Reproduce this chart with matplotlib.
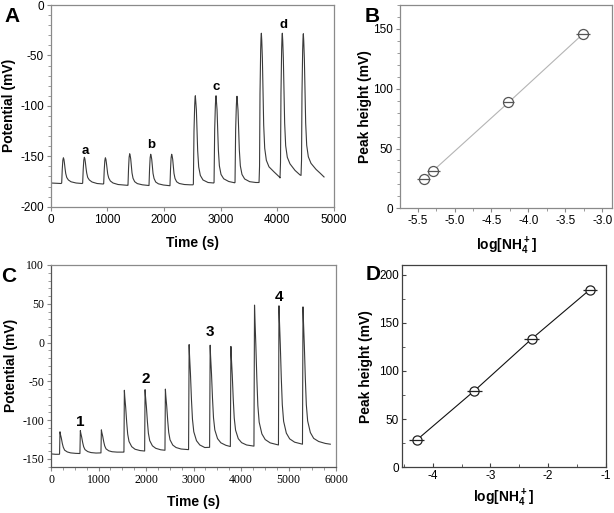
#!/usr/bin/env python3
"""Potentiometric NH4+ response: time traces (A, C) and calibration plots (B, D)."""
import matplotlib

matplotlib.use("Agg")
import matplotlib.pyplot as plt
from matplotlib.ticker import FormatStrFormatter, MultipleLocator

plt.rcParams["font.family"] = ["Liberation Sans", "DejaVu Sans"]
plt.rcParams["axes.unicode_minus"] = False
plt.rcParams["mathtext.fontset"] = "custom"
plt.rcParams["mathtext.rm"] = "Liberation Sans:bold"
plt.rcParams["mathtext.bf"] = "Liberation Sans:bold"

# ---- panel A: potential trace (time in s, potential in mV)
A_TIME = [
    0, 100, 183,
    194, 204, 214, 224, 233, 242, 253, 265, 283, 312, 359, 448, 553,
    564, 574, 584, 594, 603, 612, 623, 635, 653, 682, 729, 818, 924,
    935, 945, 955, 965, 974, 983, 994, 1006, 1024, 1053, 1100, 1189, 1280, 1353,
    1364, 1374, 1384, 1394, 1403, 1412, 1423, 1435, 1453, 1482, 1529, 1618, 1720,
    1735, 1745, 1755, 1765, 1774, 1783, 1794, 1806, 1824, 1853, 1900, 1989, 2090,
    2105, 2115, 2125, 2135, 2144, 2153, 2164, 2176, 2194, 2223, 2270, 2359, 2460, 2512,
    2518, 2529, 2541, 2547, 2553, 2562, 2571, 2582, 2594, 2612, 2641, 2688, 2777, 2877,
    2883, 2894, 2906, 2912, 2918, 2927, 2936, 2947, 2959, 2977, 3006, 3053, 3142, 3247,
    3253, 3264, 3276, 3282, 3288, 3297, 3306, 3317, 3329, 3347, 3376, 3423, 3512, 3620, 3675,
    3677, 3686, 3694, 3706, 3712, 3718, 3725, 3736, 3747, 3759, 3777, 3806, 3853, 3942, 4045,
    4047, 4056, 4064, 4076, 4082, 4088, 4095, 4106, 4117, 4129, 4147, 4176, 4223, 4312, 4400, 4418,
    4427, 4435, 4447, 4453, 4459, 4466, 4477, 4488, 4500, 4518, 4547, 4594, 4683, 4760, 4824,
]
A_MV = [
    -176.5, -176.8, -177,
    -176.5, -163, -154, -151.5, -153, -156.5, -162, -167, -171, -173.5, -175.3, -176.5, -177,
    -176.7, -163, -154, -151, -152.5, -156, -161.5, -166.5, -171, -173.5, -175.5, -177, -177.5,
    -177.3, -163.5, -154.5, -151.5, -153, -156.5, -162, -167.5, -171.5, -174.5, -176.5, -178, -178.5, -178.8,
    -178.7, -162, -151, -147.5, -149.5, -152.5, -159.5, -166.5, -171.8, -175.2, -177.1, -178.3, -179,
    -179, -162.5, -151.5, -148, -150, -153, -160, -167, -172, -175.5, -177.3, -178.5, -179.2,
    -179.2, -162.5, -151.5, -148, -150, -153, -160, -167, -172, -175.3, -177, -178, -178.3, -178.3,
    -177.5, -125, -100, -93, -90, -97, -104, -125, -144.5, -160.5, -169, -173.5, -176, -176.5,
    -176, -124, -100, -93, -90, -97, -104, -124, -143.5, -159.5, -168, -172.3, -175, -176.3,
    -176, -124, -100.5, -93.5, -90.5, -97.5, -104.5, -124.5, -143.5, -159.5, -168, -172.5, -175.2, -176, -176,
    -176, -160, -88, -44, -32.5, -28, -35, -53, -86, -119, -142, -154, -160.5, -165.5, -171,
    -171.5, -156, -88, -44, -32.5, -28, -35, -53, -85, -117, -139.5, -151, -157.5, -164, -168.5, -169,
    -154, -88, -44.5, -33, -28.5, -35.5, -53.5, -85, -117, -139, -150.5, -157, -163, -167, -170.5,
]
A_MARKS = ["a", "b", "c", "d"]
A_MARK_T = [606, 1782, 2929, 4112]
A_MARK_MV = [-145, -139, -81, -20]

# ---- panel B: calibration of trace A
B_LOGC = [-5.42, -5.29, -4.27, -3.26]
B_HEIGHT = [24.6, 31.5, 88.5, 145.8]
B_XERR = [0.09, 0.09, 0.08, 0.09]
B_YERR = [1.5, 1.5, 1.5, 2.0]

# ---- panel C: potential trace
C_TIME = [
    0, 90, 175,
    178, 183, 187, 195, 215, 236, 257, 285, 342, 412, 517, 604,
    607, 612, 616, 624, 644, 665, 686, 714, 771, 841, 946, 1048,
    1050, 1055, 1059, 1067, 1087, 1108, 1129, 1157, 1214, 1284, 1389, 1532,
    1534, 1539, 1543, 1551, 1571, 1592, 1613, 1641, 1698, 1768, 1873, 1970,
    1975, 1979, 1987, 2007, 2028, 2049, 2077, 2134, 2204, 2309, 2398,
    2403, 2407, 2415, 2435, 2456, 2477, 2505, 2562, 2632, 2737, 2895,
    2901, 2907, 2915, 2935, 2956, 2977, 3005, 3062, 3132, 3237, 3338,
    3344, 3350, 3358, 3378, 3399, 3420, 3448, 3505, 3575, 3680, 3775,
    3781, 3787, 3795, 3815, 3836, 3857, 3885, 3942, 4012, 4117, 4272,
    4278, 4284, 4292, 4312, 4333, 4354, 4382, 4439, 4509, 4614, 4754, 4788,
    4794, 4799, 4807, 4827, 4848, 4869, 4897, 4954, 5024, 5129, 5269, 5294,
    5300, 5305, 5313, 5333, 5354, 5375, 5403, 5460, 5530, 5635, 5775, 5880,
]
C_MV = [
    -143.5, -144, -144,
    -143.5, -128, -115, -118, -123, -130, -135, -138.7, -141, -142.2, -142.8, -143,
    -143, -127, -113.5, -116.5, -121.9, -128.9, -134.3, -138, -140.5, -141.8, -142.4, -142.3,
    -142.2, -126, -112.5, -115.5, -120.8, -127.7, -133.2, -137, -139.5, -140.7, -141.2, -141.2,
    -141, -100, -61.5, -69.5, -83.8, -102.8, -118, -127.5, -134.2, -137.5, -139.2, -139.8,
    -99, -60.7, -68.6, -82.8, -101.8, -116.9, -126.4, -133.1, -136.3, -138.2, -138.8,
    -98, -60, -67.9, -82, -100.8, -115.8, -125.4, -132.1, -135.3, -137.2, -138,
    -70, -2.6, -16, -40.5, -73.6, -98.7, -115, -126.5, -132, -135.3, -135,
    -70, -3.4, -16.6, -40.2, -71.8, -96.8, -112.6, -123.8, -129.2, -132.4, -134,
    -70, -5, -18, -41.6, -72.8, -97.3, -112.9, -123.9, -129, -132, -133.5,
    -40, 48.3, 32, -3.5, -46.6, -81, -102.6, -117.7, -125, -129.3, -131.5, -132,
    -40, 47.4, 31.3, -2.8, -45.9, -80, -101.5, -116.7, -124.1, -128.4, -130.6, -131,
    -40, 46, 30, -3.5, -46, -80, -101, -116, -123.5, -127.5, -130, -131,
]
C_MARKS = ["1", "2", "3", "4"]
C_MARK_T = [609, 1992, 3349, 4796]
C_MARK_MV = [-103, -47, 14, 59]

# ---- panel D: calibration of trace C
D_LOGC = [-4.28, -3.28, -2.28, -1.27]
D_HEIGHT = [28.3, 79.3, 133.4, 184.5]
D_XERR = [0.13, 0.13, 0.13, 0.12]
D_YERR = [2.0, 2.0, 2.5, 3.0]

FIG_W, FIG_H = 614, 513


def _rect(left: float, top: float, right: float, bottom: float) -> list:
    """Pixel box -> figure fraction [left, bottom, width, height]."""
    return [left / FIG_W, 1 - bottom / FIG_H, (right - left) / FIG_W, (bottom - top) / FIG_H]


def _frame(ax, color: str, direction: str = "out") -> None:
    for sp in ax.spines.values():
        sp.set_color(color)
        sp.set_linewidth(0.9)
    ax.tick_params(which="both", direction=direction, color=color, labelsize=8.5, pad=2)
    ax.tick_params(which="major", length=3)
    ax.tick_params(which="minor", length=2)


def draw_trace(ax, t, mv, marks, mark_t, mark_mv, serif_ticks=False, mark_size=9.5):
    ax.plot(t, mv, color="#3a3a3a", lw=0.8)
    for m, x, y in zip(marks, mark_t, mark_mv):
        ax.text(x, y, m, ha="center", va="center", fontsize=mark_size, fontweight="bold")
    ax.set_xlabel("Time (s)", fontsize=10, fontweight="bold")
    ax.set_ylabel("Potential (mV)", fontsize=10, fontweight="bold")
    if serif_ticks:
        for lab in ax.get_xticklabels() + ax.get_yticklabels():
            lab.set_family(["Liberation Serif", "DejaVu Serif"])


def draw_calib(ax, x, y, xerr, yerr, line_color, edge_color, ms):
    ax.plot(x, y, color=line_color, lw=0.8, zorder=1)
    ax.errorbar(x, y, yerr=yerr, fmt="none", ecolor=edge_color,
                elinewidth=0.9, capsize=0, zorder=2)
    ax.plot(x, y, "o", ms=ms, mfc="white", mec=edge_color, mew=0.9, ls="none", zorder=3)
    ax.errorbar(x, y, xerr=xerr, fmt="none", ecolor=edge_color, elinewidth=0.9, capsize=0, zorder=4)
    ax.set_ylabel("Peak height (mV)", fontsize=10, fontweight="bold")
    ax.set_xlabel(r"log[NH$_4^+$]", fontsize=10, fontweight="bold")


def _label_pos(ax, ylab_x, xlab_y):
    # ylabel anchored at its right edge, xlabel at its top (axes fraction)
    ax.yaxis.set_label_coords(ylab_x, 0.5)
    ax.xaxis.set_label_coords(0.5, xlab_y)


def main() -> None:
    fig = plt.figure(figsize=(FIG_W / 100, FIG_H / 100), dpi=100)

    # A
    ax_a = fig.add_axes(_rect(50.7, 5, 334, 206.7))
    ax_a.set_xlim(0, 5000)
    ax_a.set_ylim(-200, 0)
    ax_a.xaxis.set_major_locator(MultipleLocator(1000))
    ax_a.yaxis.set_major_locator(MultipleLocator(50))
    ax_a.yaxis.set_minor_locator(MultipleLocator(10))
    _frame(ax_a, "#8a8a8a")
    draw_trace(ax_a, A_TIME, A_MV, A_MARKS, A_MARK_T, A_MARK_MV)
    _label_pos(ax_a, -0.122, -0.145)

    # B
    ax_b = fig.add_axes(_rect(400, 5, 612.5, 208.3))
    ax_b.set_xlim(-5.74, -2.86)
    ax_b.set_ylim(0, 170)
    ax_b.xaxis.set_major_locator(MultipleLocator(0.5))
    ax_b.xaxis.set_major_formatter(FormatStrFormatter("%.1f"))
    ax_b.xaxis.set_minor_locator(MultipleLocator(0.25))
    ax_b.yaxis.set_major_locator(MultipleLocator(50))
    ax_b.yaxis.set_minor_locator(MultipleLocator(10))
    _frame(ax_b, "#8a8a8a")
    draw_calib(ax_b, B_LOGC, B_HEIGHT, B_XERR, B_YERR, "#b4b4b4", "#555555", 7.2)
    _label_pos(ax_b, -0.132, -0.135)

    # C
    ax_c = fig.add_axes(_rect(51.1, 265, 336, 466.7))
    ax_c.set_xlim(0, 6000)
    ax_c.set_ylim(-160, 100)
    ax_c.xaxis.set_major_locator(MultipleLocator(1000))
    ax_c.xaxis.set_minor_locator(MultipleLocator(250))
    ax_c.yaxis.set_major_locator(MultipleLocator(50))
    ax_c.yaxis.set_minor_locator(MultipleLocator(10))
    _frame(ax_c, "#8a8a8a")
    ax_c.spines["left"].set_color("#555555")
    ax_c.spines["bottom"].set_color("#555555")
    draw_trace(ax_c, C_TIME, C_MV, C_MARKS, C_MARK_T, C_MARK_MV, serif_ticks=True, mark_size=11)
    _label_pos(ax_c, -0.116, -0.14)

    # D
    ax_d = fig.add_axes(_rect(401.7, 265, 605.5, 467.3))
    ax_d.set_xlim(-4.54, -1.0)
    ax_d.set_ylim(0, 210)
    ax_d.xaxis.set_major_locator(MultipleLocator(1))
    ax_d.xaxis.set_minor_locator(MultipleLocator(0.5))
    ax_d.yaxis.set_major_locator(MultipleLocator(50))
    ax_d.yaxis.set_minor_locator(MultipleLocator(25))
    _frame(ax_d, "#404040", direction="in")
    ax_d.tick_params(axis="y", pad=2)
    draw_calib(ax_d, D_LOGC, D_HEIGHT, D_XERR, D_YERR, "#111111", "#222222", 6.6)
    _label_pos(ax_d, -0.14, -0.10)

    # panel letters
    for letter, (px, py) in zip("ABCD", [(12, 16), (372, 16), (9, 276), (373, 274)]):
        fig.text(px / FIG_W, 1 - py / FIG_H, letter, fontsize=15, fontweight="bold",
                 ha="center", va="center")

    fig.savefig("out.png", dpi=100)
    plt.close(fig)


if __name__ == "__main__":
    main()
